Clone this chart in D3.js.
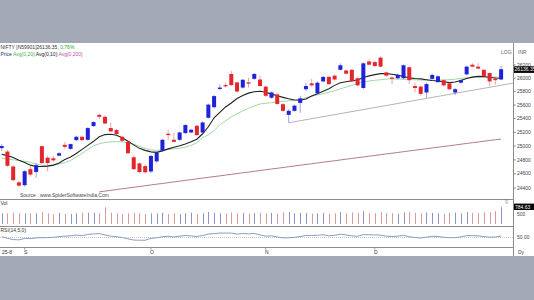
<!DOCTYPE html>
<html><head><meta charset="utf-8">
<script src="https://cdn.jsdelivr.net/npm/d3@7"></script>
<style>
html,body{margin:0;padding:0;background:#a3a8b5;overflow:hidden;}
svg{display:block;font-family:"Liberation Sans",Arial,sans-serif;}
</style></head><body>
<svg id="c" width="534" height="300"></svg>
<script>
const dates = [
"2025-08-25","2025-08-26","2025-08-28","2025-08-29",
"2025-09-01","2025-09-02","2025-09-03","2025-09-04","2025-09-05","2025-09-08","2025-09-09","2025-09-10","2025-09-11","2025-09-12","2025-09-15","2025-09-16","2025-09-17","2025-09-18","2025-09-19","2025-09-22","2025-09-23","2025-09-24","2025-09-25","2025-09-26","2025-09-29","2025-09-30",
"2025-10-01","2025-10-03","2025-10-06","2025-10-07","2025-10-08","2025-10-09","2025-10-10","2025-10-13","2025-10-14","2025-10-15","2025-10-16","2025-10-17","2025-10-20","2025-10-23","2025-10-24","2025-10-27","2025-10-28","2025-10-29","2025-10-30","2025-10-31",
"2025-11-03","2025-11-04","2025-11-06","2025-11-07","2025-11-10","2025-11-11","2025-11-12","2025-11-13","2025-11-14","2025-11-17","2025-11-18","2025-11-19","2025-11-20","2025-11-21","2025-11-24","2025-11-25","2025-11-26","2025-11-27","2025-11-28",
"2025-12-01","2025-12-02","2025-12-03","2025-12-04","2025-12-05","2025-12-08","2025-12-09","2025-12-10","2025-12-11","2025-12-12","2025-12-15","2025-12-16","2025-12-17","2025-12-18","2025-12-19","2025-12-22","2025-12-23","2025-12-24","2025-12-26","2025-12-29","2025-12-30","2025-12-31",
"2026-01-01"];

const openP = [24970,24920,24705,24480,24440,24667,24628,24998,24832,24823,24861,25017,24959,25086,25134,25090,25290,25455,25426,25261,25232,25134,25061,24838,24750,24711,24634,24779,24934,25178,25090,25090,25188,25197,25295,25197,25412,25568,25839,25898,26064,25937,25860,25937,25991,25981,25874,25708,25758,25612,25455,25514,25631,25835,25923,25777,25952,26020,26039,26127,26117,26127,26000,25854,26254,26244,26312,26088,26010,26000,26000,26166,25883,25874,25787,25991,25942,25971,25923,25787,25933,26058,26204,26175,26127,26079,25991,25981];
const highP = [25030,24945,24725,24500,24655,24716,24755,25007,24861,24861,24911,25057,25036,25150,25150,25275,25360,25470,25445,25339,25250,25150,25075,24861,24765,24730,24870,24920,25105,25236,25197,25210,25320,25250,25310,25360,25620,25750,25908,25933,26112,25950,25990,26006,26080,26039,25890,25800,25775,25630,25543,25605,25737,25933,25991,25950,26035,26035,26055,26225,26130,26140,26015,26240,26283,26260,26331,26100,26039,26065,26210,26175,25933,25893,25933,26065,26045,25985,25940,25854,25985,26190,26225,26225,26140,26085,26020,26185];
const lowP = [24930,24700,24495,24410,24420,24560,24546,24745,24638,24774,24852,24959,24949,25070,25070,25080,25280,25397,25320,25203,25160,25060,24880,24652,24610,24605,24610,24760,24920,25090,25051,25075,25175,25185,25145,25180,25400,25555,25820,25860,25883,25785,25845,25860,25975,25874,25720,25695,25600,25500,25339,25500,25485,25810,25874,25760,25940,25900,25965,26117,26055,25940,25880,25840,26196,26170,26166,26025,25912,25985,25985,25912,25787,25737,25708,25980,25930,25880,25820,25747,25920,26045,26166,26140,26015,25883,25903,25971];
const closeP = [25000,24716,24511,24433,24638,24590,24725,24755,24755,24794,24896,24988,25028,25134,25086,25261,25349,25426,25328,25212,25174,25076,24896,24667,24626,24623,24857,24905,25090,25159,25061,25197,25305,25236,25159,25343,25606,25733,25860,25879,25898,25801,25977,25918,26064,25883,25737,25787,25616,25514,25514,25591,25699,25883,25893,25933,26020,25912,25981,26196,26069,25952,25893,26225,26204,26185,26175,26039,25991,26050,26196,25971,25854,25766,25912,26050,26029,25893,25835,25835,25971,26175,26175,26146,26029,25952,25971,26136.35];

const avg10 = [24880,24861,24835,24795,24762,24725,24706,24706,24711,24725,24755,24806,24842,24893,24952,25010,25068,25134,25166,25171,25156,25120,25068,25017,24966,24937,24915,24908,24930,24959,24981,25003,25028,25061,25098,25178,25280,25412,25492,25572,25631,25696,25740,25777,25798,25806,25791,25762,25737,25714,25692,25674,25670,25689,25733,25769,25806,25842,25893,25933,25947,25962,25974,26010,26036,26054,26069,26069,26061,26047,26025,26006,25996,25990,25978,25966,25959,25947,25934,25944,25966,25996,26017,26028,26025,26010,26004,26000];
const avg20 = [24820,24813,24801,24790,24779,24765,24740,24725,24722,24725,24740,24762,24791,24842,24893,24952,25000,25032,25052,25060,25064,25061,25047,25025,24998,24966,24944,24937,24942,24949,24959,24969,24984,25010,25050,25120,25163,25222,25309,25368,25426,25470,25514,25550,25587,25616,25626,25636,25645,25655,25664,25674,25689,25708,25730,25750,25769,25791,25813,25841,25867,25893,25923,25944,25959,25969,25978,25987,25991,25988,25984,25981,25977,25972,25971,25971,25971,25974,25978,25987,25996,26007,26017,26020,26020,26020,26017,26015];
const avg200 = [null,null,null,null,null,null,null,null,null,null,null,null,null,null,null,null,null,24345,24356,24367,24378,24389,24400,24410,24421,24432,24443,24454,24464,24475,24486,24497,24508,24518,24529,24540,24551,24562,24572,24583,24594,24605,24616,24626,24637,24648,24659,24670,24680,24691,24702,24713,24724,24734,24745,24756,24767,24778,24788,24799,24810,24821,24832,24842,24853,24864,24875,24886,24896,24907,24918,24929,24940,24950,24961,24972,24983,24994,25004,25015,25026,25037,25048,25058,25069,25080,25091,25100];

const volume = [500,500,530,500,500,500,500,560,500,450,530,467,467,500,530,530,530,500,780,530,500,467,500,530,500,467,500,500,530,467,500,467,500,530,467,500,560,530,500,480,540,500,520,480,510,530,500,520,480,540,560,500,530,520,480,500,520,480,500,560,500,540,520,600,520,500,560,520,500,480,540,560,520,500,540,520,500,480,520,540,500,560,520,500,540,560,600,784.63];
const rsi = [55,45,38,36,45,43,48,49,49,51,55,58,60,64,61,68,71,73,65,58,55,50,42,35,34,34,45,48,55,57,53,58,62,59,56,62,70,73,76,76,76,70,74,71,74,65,58,60,53,48,48,51,56,62,62,63,66,60,63,69,65,60,57,67,66,65,64,58,56,58,63,54,50,47,52,57,56,51,49,49,54,61,61,60,55,52,53,59];

const priceTicks = [24400,24600,24800,25000,25200,25400,25600,25800,26000,26200];
const monthTicks = ["2025-09-01","2025-10-01","2025-11-03","2025-12-01"];
const monthLabels = ["S","O","N","D"];
const trendDates = ["2025-11-10","2026-01-01"];
const trendValues = [25339,25895];

const W = 534, H = 300;
const plotR = 513.5;
const svg = d3.select("#c");

svg.append("rect").attr("x",0).attr("y",0).attr("width",W).attr("height",H).attr("fill","#a3a8b5");
svg.append("rect").attr("x",0).attr("y",43).attr("width",W).attr("height",213).attr("fill","#ffffff");

const idx = d3.scaleLinear().domain([0, dates.length-1]).range([1.7, 501.1]);
const xOf = d => idx(dates.indexOf(d));
const y = d3.scaleLog().domain([24400, 26200]).range([188, 65]);
const yV = d3.scaleLinear().domain([0, 500]).range([224, 213.3]);
const yR = d3.scaleLinear().domain([0, 100]).range([246, 229]);

const defs = svg.append("defs");
defs.append("clipPath").attr("id","mainClip").append("rect").attr("x",0).attr("y",43).attr("width",plotR).attr("height",156);

const up = "#1f22d8", dn = "#e3262b";

const lineGen = (sc, arr) => d3.line().defined((d,i)=>arr[i]!=null).x((d,i)=>idx(i)).y((d,i)=>sc(arr[i]))(arr);
const main = svg.append("g").attr("clip-path","url(#mainClip)");
main.append("path").attr("d", lineGen(y, avg200)).attr("fill","none").attr("stroke","#b5788f").attr("stroke-width",1);

{
  const x1 = xOf(trendDates[0]), x2 = xOf(trendDates[1]);
  const y1 = y(trendValues[0]), y2 = y(trendValues[1]);
  const xe = plotR; const ye = y1 + (y2-y1)*(xe-x1)/(x2-x1);
  main.append("line").attr("x1",x1).attr("y1",y1).attr("x2",xe).attr("y2",ye).attr("stroke","#b4b4b8").attr("stroke-width",1);
}

main.append("path").attr("d", lineGen(y, avg20)).attr("fill","none").attr("stroke","#9fd9a4").attr("stroke-width",1);
main.append("path").attr("d", lineGen(y, avg10)).attr("fill","none").attr("stroke","#222").attr("stroke-width",1.1);

const cg = main.append("g");
dates.forEach((d,i)=>{
  const cx = idx(i);
  const isUp = closeP[i] >= openP[i];
  const col = isUp ? up : dn;
  cg.append("line").attr("x1",cx).attr("x2",cx).attr("y1",y(highP[i])).attr("y2",y(lowP[i]))
    .attr("stroke", col).attr("stroke-opacity",0.55).attr("stroke-width",0.8);
  const top = y(Math.max(openP[i],closeP[i])), bot = y(Math.min(openP[i],closeP[i]));
  cg.append("rect").attr("x",cx-2).attr("y",top).attr("width",4).attr("height",Math.max(1,bot-top)).attr("fill",col);
});

const sepCol = "#8c8c8c";
[199.5, 226.5, 247.5].forEach(yy=>{
  svg.append("line").attr("x1",0).attr("x2",plotR).attr("y1",yy).attr("y2",yy).attr("stroke",sepCol).attr("stroke-width",1);
});
svg.append("line").attr("x1",plotR).attr("x2",plotR).attr("y1",43).attr("y2",256).attr("stroke",sepCol).attr("stroke-width",1);

const vg = svg.append("g");
dates.forEach((d,i)=>{
  const cx = Math.round(idx(i))+0.5;
  const isUp = closeP[i] >= openP[i];
  vg.append("line").attr("x1",cx).attr("x2",cx).attr("y1",yV(0)).attr("y2",yV(volume[i]))
    .attr("stroke", isUp ? "#8f93cc" : "#d89a9a").attr("stroke-width",1);
});

svg.append("line").attr("x1",0).attr("x2",plotR).attr("y1",yR(50)).attr("y2",yR(50)).attr("stroke","#c8c8c8").attr("stroke-dasharray","1,1");
svg.append("path").attr("d", lineGen(yR, rsi)).attr("fill","none").attr("stroke","#8a9cc0").attr("stroke-width",1);

const ax = svg.append("g").attr("font-size",5).attr("fill","#444");
priceTicks.forEach(t=>{
  ax.append("line").attr("x1",plotR).attr("x2",plotR+2).attr("y1",y(t)).attr("y2",y(t)).attr("stroke","#777");
  ax.append("text").attr("x",517).attr("y",y(t)+1.6).text(t);
});
const last = closeP[closeP.length-1];
svg.append("rect").attr("x",514).attr("y",y(last)-2.9).attr("width",20).attr("height",6.6).attr("fill","#000");
svg.append("text").attr("x",514.6).attr("y",y(last)+2.1).attr("font-size",5).attr("fill","#fff").text(last.toFixed(2));

ax.append("text").attr("x",517).attr("y",yV(500)+2.2).text("500");
const lv = volume[volume.length-1];
svg.append("rect").attr("x",514).attr("y",yV(lv)-3.6).attr("width",20).attr("height",6.4).attr("fill","#000");
svg.append("text").attr("x",515).attr("y",yV(lv)+1.4).attr("font-size",5).attr("fill","#fff").text(lv.toFixed(2));
svg.append("text").attr("x",505).attr("y",204).attr("font-size",4.5).attr("fill","#666").text("©");

ax.append("text").attr("x",517).attr("y",yR(50)+1.8).text("50.00");
ax.append("text").attr("x",518).attr("y",254).text("Dy");
ax.append("text").attr("x",501).attr("y",54).attr("fill","#666").text("LOG");
ax.append("text").attr("x",518).attr("y",54).attr("fill","#666").text("INR");

const dg = svg.append("g").attr("font-size",5).attr("fill","#333");
dg.append("text").attr("x",2).attr("y",253.5).text("25-8");
monthTicks.forEach((m,k)=>{
  const xx = xOf(m);
  dg.append("line").attr("x1",xx).attr("x2",xx).attr("y1",247.5).attr("y2",249.5).attr("stroke","#999");
  dg.append("text").attr("x",xx+1).attr("y",253.5).attr("text-anchor","middle").text(monthLabels[k]);
});

const h1 = svg.append("text").attr("x",0.5).attr("y",48.5).attr("font-size",5);
h1.append("tspan").attr("fill","#333").text("NIFTY [N59901]26136.35, ");
h1.append("tspan").attr("fill","#2ea52e").text("0.76%");
const h2 = svg.append("text").attr("x",0.5).attr("y",55.5).attr("font-size",5);
h2.append("tspan").attr("fill","#2a2a7a").text("Price ");
h2.append("tspan").attr("fill","#3cb54a").text("Avg(0,20) ");
h2.append("tspan").attr("fill","#222").text("Avg(0,10) ");
h2.append("tspan").attr("fill","#c04aa8").text("Avg(0,200)");

svg.append("text").attr("x",20).attr("y",196.5).attr("font-size",5).attr("fill","#444").text("Source : www.SpiderSoftwareIndia.Com");
svg.append("text").attr("x",0.5).attr("y",204.5).attr("font-size",5).attr("fill","#333").text("Vol");
svg.append("text").attr("x",0.5).attr("y",232).attr("font-size",5).attr("fill","#333").text("RSI(14,5,0)");
</script>
</body></html>
